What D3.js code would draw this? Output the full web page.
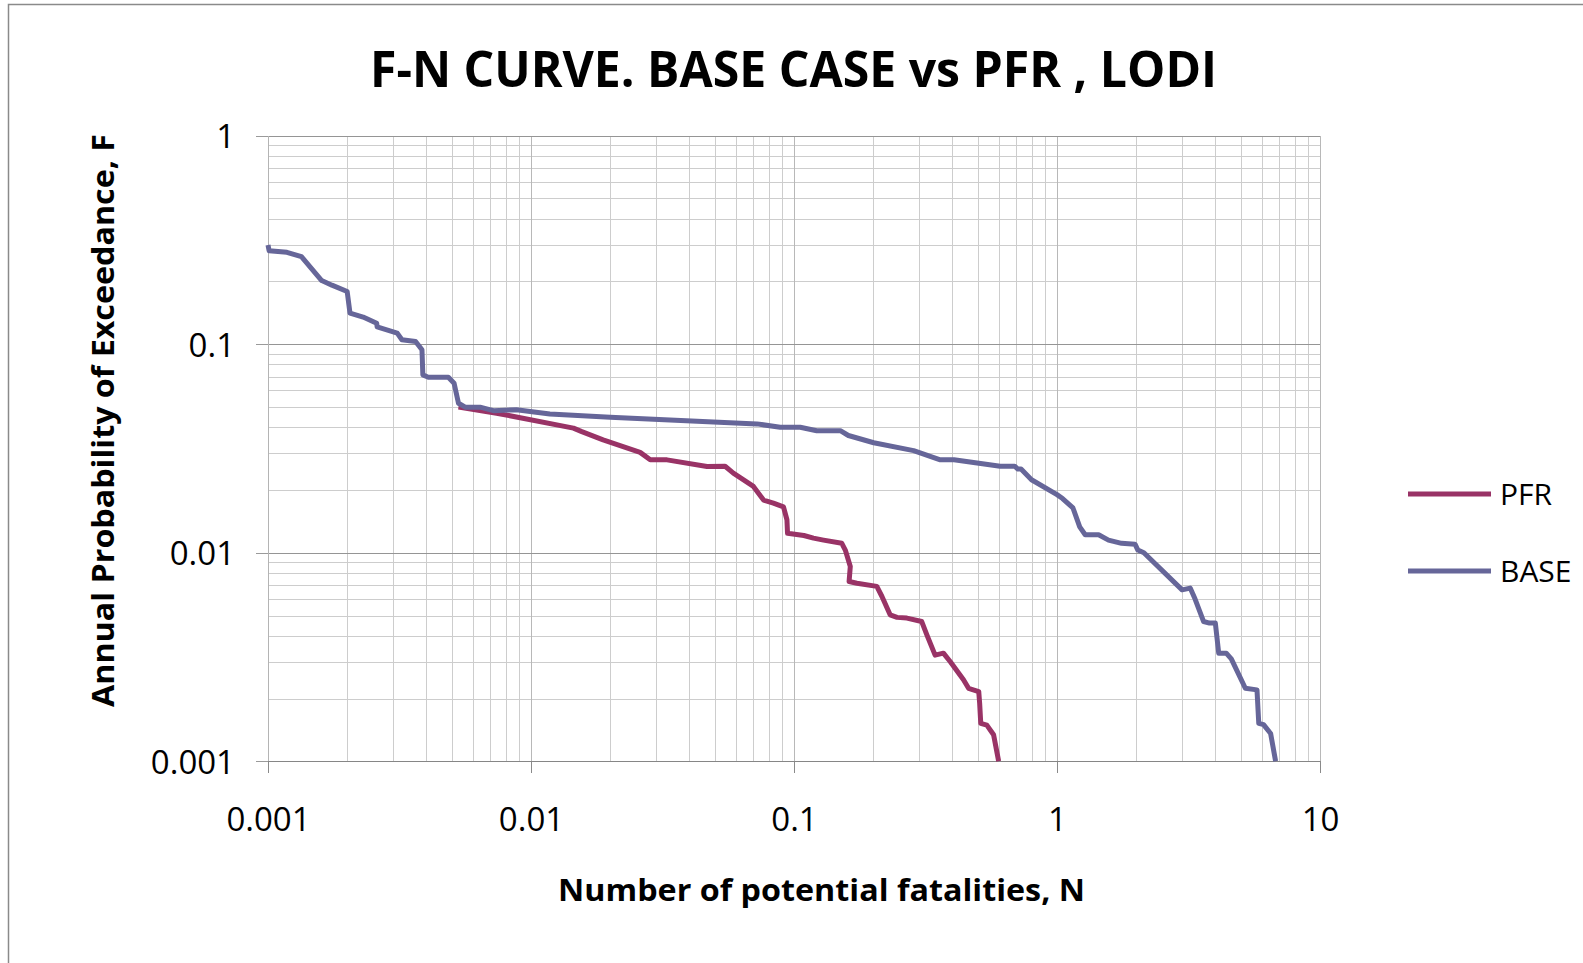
<!DOCTYPE html>
<html>
<meta charset="utf-8">
<style>
body {
  margin: 0;
  background: #fff;
}
svg text {
  font-family: "Open Sans", sans-serif;
  fill: #000;
}
.grid path,
.axis path {
  display: none;
}
.grid line,
.axis line {
  shape-rendering: crispEdges;
}
</style>
<body>
<script src="https://d3js.org/d3.v7.min.js"></script>
<script>
// values
var xTicks = [0.001, 0.01, 0.1, 1, 10];
var yTicks = [0.001, 0.01, 0.1, 1];
var xLabels = ["0.001", "0.01", "0.1", "1", "10"];
var yLabels = ["0.001", "0.01", "0.1", "1"];
var seriesNames = ["PFR", "BASE"];
var seriesColors = ["#993366", "#666699"];

// PFR curve: number of fatalities N and exceedance probability F
var pfrN = [0.0053, 0.0074, 0.0145, 0.0156, 0.0188, 0.026, 0.0284, 0.0329, 0.0467, 0.0547,
  0.0588, 0.0701, 0.0766, 0.0835, 0.0912, 0.094, 0.0945, 0.109, 0.1186, 0.1295,
  0.152, 0.1567, 0.1637, 0.162, 0.1735, 0.2065, 0.216, 0.232, 0.2465, 0.2686,
  0.306, 0.32, 0.344, 0.37, 0.393, 0.441, 0.461, 0.504, 0.508, 0.513,
  0.541, 0.574, 0.600];
var pfrF = [0.050, 0.0467, 0.0396, 0.0381, 0.0348, 0.0303, 0.0279, 0.0279, 0.0259, 0.026,
  0.0241, 0.0208, 0.0179, 0.0173, 0.0166, 0.0144, 0.0124, 0.0121, 0.01175, 0.0115,
  0.0111, 0.0103, 0.0086, 0.00728, 0.00714, 0.0069, 0.00617, 0.00504, 0.0049, 0.00486,
  0.00468, 0.00404, 0.00323, 0.0033, 0.003, 0.00246, 0.00224, 0.00216, 0.0019, 0.00152,
  0.00149, 0.00134, 0.001];

// BASE curve
var baseN = [0.001, 0.00101, 0.00118, 0.00134, 0.0016, 0.00175, 0.002, 0.00205, 0.0023, 0.00259,
  0.0026, 0.0031, 0.00323, 0.00364, 0.00385, 0.00388, 0.00407, 0.00485, 0.0051, 0.0053,
  0.00562, 0.0064, 0.0072, 0.0088, 0.0118, 0.02, 0.0723, 0.0886, 0.1056, 0.122,
  0.15, 0.161, 0.201, 0.285, 0.36, 0.406, 0.608, 0.69, 0.71, 0.73,
  0.80, 1.0, 1.05, 1.15, 1.22, 1.28, 1.44, 1.57, 1.76, 1.98,
  2.03, 2.14, 2.99, 3.21, 3.35, 3.61, 3.8, 4.0, 4.12, 4.4,
  4.6, 5.2, 5.76, 5.85, 6.1, 6.49, 6.78];
var baseF = [0.299, 0.281, 0.276, 0.263, 0.202, 0.192, 0.179, 0.141, 0.135, 0.126,
  0.121, 0.113, 0.105, 0.103, 0.094, 0.0713, 0.0695, 0.0695, 0.065, 0.0521,
  0.0499, 0.0499, 0.048, 0.0485, 0.0463, 0.0447, 0.0415, 0.040, 0.040, 0.0385,
  0.0385, 0.0365, 0.0337, 0.0309, 0.0279, 0.0279, 0.026, 0.026, 0.0252, 0.0252,
  0.0224, 0.019, 0.0182, 0.0164, 0.0133, 0.0122, 0.0122, 0.0115, 0.0111, 0.0110,
  0.0103, 0.0100, 0.00664, 0.00677, 0.0060, 0.00468, 0.0046, 0.0046, 0.0033, 0.0033,
  0.0031, 0.00224, 0.0022, 0.00152, 0.0015, 0.00136, 0.001];

var W = 1583, H = 963;
var plot = {left: 268, top: 135.7, right: 1320, bottom: 761.3};

var x = d3.scaleLog().domain([0.001, 10]).range([plot.left, plot.right]);
var y = d3.scaleLog().domain([0.001, 1]).range([plot.bottom, plot.top]);

// minor grid values, 2..9 within each decade
function minors(majors) {
  var out = [];
  for (var i = 0; i < majors.length - 1; i++) {
    for (var k = 2; k <= 9; k++) out.push(majors[i] * k);
  }
  return out;
}

var svg = d3.select("body").append("svg")
    .attr("width", W)
    .attr("height", H);

// outer chart frame
svg.append("rect")
    .attr("x", 8.5)
    .attr("y", 4.5)
    .attr("width", W + 20)
    .attr("height", H + 20)
    .style("fill", "none")
    .style("stroke", "#8a8a8a")
    .style("stroke-width", 1.5);

var ph = plot.bottom - plot.top, pw = plot.right - plot.left;

// minor gridlines
svg.append("g")
    .attr("class", "grid")
    .attr("transform", "translate(0," + plot.bottom + ")")
    .call(d3.axisBottom(x).tickValues(minors(xTicks)).tickSize(-ph).tickFormat(""))
    .selectAll("line").style("stroke", "#cdcdcd");

svg.append("g")
    .attr("class", "grid")
    .attr("transform", "translate(" + plot.left + ",0)")
    .call(d3.axisLeft(y).tickValues(minors(yTicks)).tickSize(-pw).tickFormat(""))
    .selectAll("line").style("stroke", "#cdcdcd");

// major gridlines
svg.append("g")
    .attr("class", "grid")
    .attr("transform", "translate(0," + plot.bottom + ")")
    .call(d3.axisBottom(x).tickValues(xTicks.slice(1)).tickSize(-ph).tickFormat(""))
    .selectAll("line").style("stroke", "#b8b8b8");

svg.append("g")
    .attr("class", "grid")
    .attr("transform", "translate(" + plot.left + ",0)")
    .call(d3.axisLeft(y).tickValues(yTicks.slice(1)).tickSize(-pw).tickFormat(""))
    .selectAll("line").style("stroke", "#959595");

// y axis
var yAxis = svg.append("g")
    .attr("class", "axis")
    .attr("transform", "translate(" + plot.left + ",0)")
    .call(d3.axisLeft(y).tickValues(yTicks).tickSize(12).tickPadding(21)
      .tickFormat(function(d, i) { return yLabels[i]; }));
yAxis.selectAll("line").style("stroke", "#9a9a9a");
yAxis.append("line")
    .attr("x1", 0).attr("x2", 0)
    .attr("y1", plot.top).attr("y2", plot.bottom)
    .style("stroke", "#b4b4b4");
yAxis.selectAll(".tick text")
    .style("font-size", "33px")
    .attr("dy", "0.36em");

// x axis
var xAxis = svg.append("g")
    .attr("class", "axis")
    .attr("transform", "translate(0," + plot.bottom + ")")
    .call(d3.axisBottom(x).tickValues(xTicks).tickSize(12).tickPadding(0)
      .tickFormat(function(d, i) { return xLabels[i]; }));
xAxis.selectAll("line").style("stroke", "#8a8a8a");
xAxis.append("line")
    .attr("x1", plot.left).attr("x2", plot.right)
    .attr("y1", 0).attr("y2", 0)
    .style("stroke", "#868686");
xAxis.selectAll(".tick text")
    .style("font-size", "33px")
    .attr("y", 70)
    .attr("dy", 0);

// curves
var line = d3.line()
    .x(function(d) { return x(d[0]); })
    .y(function(d) { return y(d[1]); });

var series = [d3.zip(pfrN, pfrF), d3.zip(baseN, baseF)];

svg.selectAll(".curve")
    .data(series)
  .enter().append("path")
    .attr("class", "curve")
    .attr("d", line)
    .style("fill", "none")
    .style("stroke", function(d, i) { return seriesColors[i]; })
    .style("stroke-width", 5)
    .style("stroke-linejoin", "round");

// legend
var legend = svg.selectAll(".legend")
    .data(seriesNames)
  .enter().append("g")
    .attr("class", "legend")
    .attr("transform", function(d, i) { return "translate(1408," + (494 + i * 77) + ")"; });

legend.append("line")
    .attr("x1", 0).attr("x2", 83)
    .style("stroke", function(d, i) { return seriesColors[i]; })
    .style("stroke-width", 5);

legend.append("text")
    .attr("x", 92)
    .attr("y", 11)
    .style("font-size", "30px")
    .text(function(d) { return d; });

// titles
svg.append("text")
    .attr("x", 793.5)
    .attr("y", 87)
    .attr("text-anchor", "middle")
    .attr("textLength", 847)
    .attr("lengthAdjust", "spacingAndGlyphs")
    .style("font-size", "50px")
    .style("font-weight", "bold")
    .text("F-N CURVE. BASE CASE vs PFR , LODI");

svg.append("text")
    .attr("x", 821.5)
    .attr("y", 901)
    .attr("text-anchor", "middle")
    .attr("textLength", 527)
    .attr("lengthAdjust", "spacingAndGlyphs")
    .style("font-size", "31px")
    .style("font-weight", "bold")
    .text("Number of potential fatalities, N");

svg.append("text")
    .attr("transform", "translate(114,420.5) rotate(-90)")
    .attr("text-anchor", "middle")
    .attr("textLength", 573)
    .attr("lengthAdjust", "spacingAndGlyphs")
    .style("font-size", "30px")
    .style("font-weight", "bold")
    .text("Annual Probability of Exceedance, F");
</script>
</body>
</html>
